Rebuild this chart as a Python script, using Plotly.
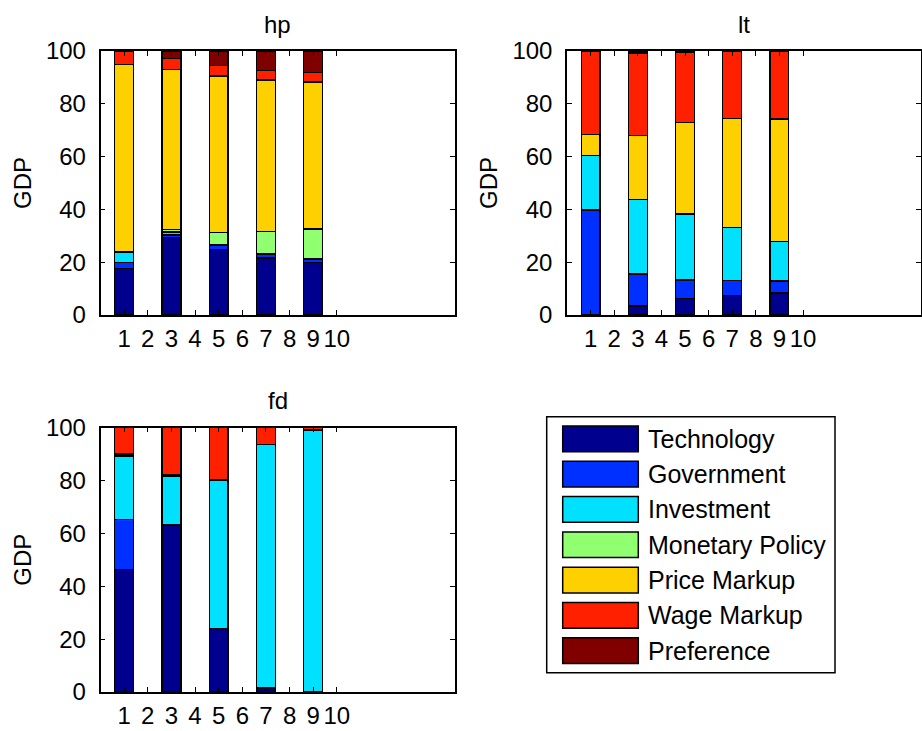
import plotly.graph_objects as go

W, H = 922, 731

# ---------------- data ----------------
categories = list(range(1, 11))          # x tick labels 1..10
bar_x = [1, 3, 5, 7, 9]                  # positions carrying data
series_names = ["Technology", "Government", "Investment", "Monetary Policy",
                "Price Markup", "Wage Markup", "Preference"]
series_colors = ["#00008F", "#0030FF", "#00E0FF", "#90FF70",
                 "#FFD000", "#FF2000", "#800000"]

# panel "hp"
hp_technology = [17.7, 29.4, 24.9, 21.6, 19.9]
hp_government = [2.1, 0.9, 1.4, 1.5, 1.3]
hp_investment = [4.1, 1.1, 0.2, 0.3, 0.1]
hp_monetary = [0.2, 0.9, 4.7, 8.3, 11.3]
hp_price = [70.8, 60.8, 59.3, 57.3, 55.7]
hp_wage = [5.1, 4.0, 3.9, 3.7, 3.6]
hp_preference = [0.0, 2.9, 5.6, 7.3, 8.1]

# panel "lt"
lt_technology = [0.3, 3.4, 6.2, 7.4, 8.3]
lt_government = [39.5, 12.1, 7.1, 5.6, 4.6]
lt_investment = [20.7, 28.2, 25.0, 20.1, 15.0]
lt_monetary = [0.0, 0.1, 0.1, 0.0, 0.0]
lt_price = [7.8, 24.1, 34.5, 41.3, 46.3]
lt_wage = [31.7, 31.3, 26.7, 25.6, 25.8]
lt_preference = [0.0, 0.8, 0.4, 0.0, 0.0]

# panel "fd"
fd_technology = [46.4, 63.1, 24.1, 1.5, 0.0]
fd_government = [18.7, 0.0, 0.0, 0.0, 0.0]
fd_investment = [23.9, 18.6, 56.1, 92.0, 99.1]
fd_monetary = [0.3, 0.0, 0.0, 0.0, 0.0]
fd_price = [0.7, 0.4, 0.0, 0.0, 0.0]
fd_wage = [10.0, 17.9, 19.8, 6.5, 0.9]
fd_preference = [0.0, 0.0, 0.0, 0.0, 0.0]

y_ticks = [0, 20, 40, 60, 80, 100]

panels = [
    ("hp", [hp_technology, hp_government, hp_investment, hp_monetary,
            hp_price, hp_wage, hp_preference]),
    ("lt", [lt_technology, lt_government, lt_investment, lt_monetary,
            lt_price, lt_wage, lt_preference]),
    ("fd", [fd_technology, fd_government, fd_investment, fd_monetary,
            fd_price, fd_wage, fd_preference]),
]

# ---------------- layout geometry (pixels) ----------------
def px_x(p):
    return p / W

def px_y(p):
    return 1 - p / H

domains = {
    "hp": ([100.5, 455.0], [315.0, 51.0]),
    "lt": ([567.0, 921.0], [315.0, 51.0]),
    "fd": ([100.5, 455.0], [692.0, 427.5]),
}

FONT = "Liberation Sans, Arial, Helvetica, sans-serif"
FS = 24
FS_LEG = 25

fig = go.Figure()
layout = dict(
    width=W, height=H, autosize=False,
    margin=dict(l=0, r=0, t=0, b=0, pad=0, autoexpand=False),
    paper_bgcolor="white", plot_bgcolor="white",
    barmode="stack", showlegend=False,
    font=dict(family=FONT, size=FS, color="black"),
    annotations=[], shapes=[],
)

for i, (name, series) in enumerate(panels):
    ax = "" if i == 0 else str(i + 1)
    xd, yd = domains[name]
    for sname, color, vals in zip(series_names, series_colors, series):
        fig.add_trace(go.Bar(
            x=bar_x, y=vals, name=sname, width=0.8,
            marker=dict(color=color, line=dict(color="black", width=1.3)),
            xaxis="x" + ax, yaxis="y" + ax, showlegend=False,
        ))
    layout["xaxis" + ax] = dict(
        domain=[px_x(xd[0]), px_x(xd[1])], range=[0, 15],
        tickmode="array", tickvals=categories,
        ticktext=[str(c) for c in categories],
        ticks="inside", ticklen=5, tickcolor="black", tickwidth=1,
        showline=True, linecolor="black", linewidth=1.5, mirror="ticks",
        showgrid=False, zeroline=False, anchor="y" + ax,
        tickfont=dict(family=FONT, size=FS, color="black"),
        ticklabelstandoff=1, fixedrange=True, automargin=False,
    )
    layout["yaxis" + ax] = dict(
        domain=[px_y(yd[0]), px_y(yd[1])], range=[0, 100],
        tickmode="array", tickvals=y_ticks,
        ticks="inside", ticklen=5, tickcolor="black", tickwidth=1,
        showline=True, linecolor="black", linewidth=1.5, mirror="ticks",
        showgrid=False, zeroline=False, anchor="x" + ax,
        tickfont=dict(family=FONT, size=FS, color="black"),
        title=dict(text="GDP", font=dict(family=FONT, size=FS, color="black"),
                   standoff=8),
        ticklabelstandoff=8, fixedrange=True, automargin=False,
    )
    layout["annotations"].append(dict(
        text=name, xref="paper", yref="paper",
        x=px_x((xd[0] + xd[1]) / 2), y=px_y(yd[1] - 27),
        xanchor="center", yanchor="middle", showarrow=False,
        font=dict(family=FONT, size=FS, color="black"),
    ))

# ---------------- legend (drawn as a MATLAB-style box) ----------------
box_l, box_r, box_t, box_b = 546.7, 835.0, 416.7, 672.7
patch_l, patch_r = 562.7, 638.3
patch_top0, pitch, patch_h = 426.0, 35.3, 25.7
text_l = 646.0
layout["shapes"].append(dict(
    type="rect", xref="paper", yref="paper",
    x0=px_x(box_l), x1=px_x(box_r), y0=px_y(box_b), y1=px_y(box_t),
    line=dict(color="black", width=1.5), fillcolor="white", layer="below",
))
for k, (sname, color) in enumerate(zip(series_names, series_colors)):
    top = patch_top0 + k * pitch
    layout["shapes"].append(dict(
        type="rect", xref="paper", yref="paper",
        x0=px_x(patch_l), x1=px_x(patch_r),
        y0=px_y(top + patch_h), y1=px_y(top),
        line=dict(color="black", width=1.5), fillcolor=color,
    ))
    layout["annotations"].append(dict(
        text=sname, xref="paper", yref="paper",
        x=px_x(text_l), y=px_y(top + patch_h / 2),
        xanchor="left", yanchor="middle", showarrow=False,
        font=dict(family=FONT, size=FS_LEG, color="black"),
    ))

fig.update_layout(**layout)
fig.write_html("out.html")
